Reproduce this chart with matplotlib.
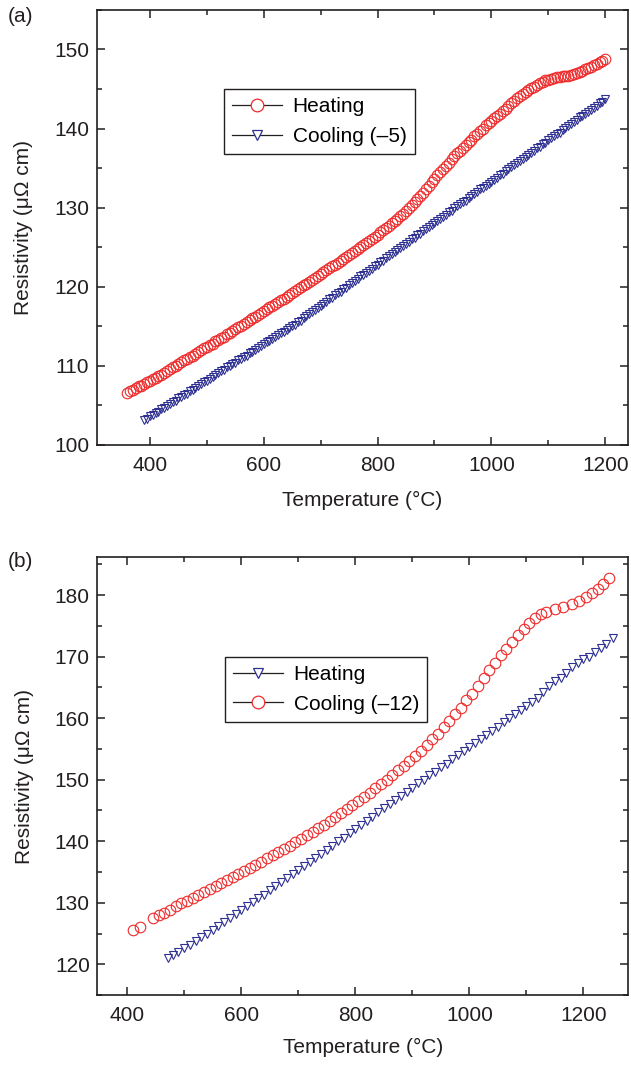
import matplotlib
matplotlib.use("Agg")
import matplotlib.pyplot as plt
from matplotlib.lines import Line2D
from matplotlib.ticker import MultipleLocator

plt.rcParams['font.family'] = ['Liberation Sans', 'DejaVu Sans']

# (a) heating / cooling (-5)
temp_a_heat = [360, 365, 370, 375, 380, 385, 390, 395, 400, 405, 410, 415, 420, 425, 430,
               435, 440, 445, 450, 455, 460, 465, 470, 475, 480, 485, 490, 495, 500, 505,
               510, 515, 520, 525, 530, 535, 540, 545, 550, 555, 560, 565, 570, 575, 580,
               585, 590, 595, 600, 605, 610, 615, 620, 625, 630, 635, 640, 645, 650, 655,
               660, 665, 670, 675, 680, 685, 690, 695, 700, 705, 710, 715, 720, 725, 730,
               735, 740, 745, 750, 755, 760, 765, 770, 775, 780, 785, 790, 795, 800, 805,
               810, 815, 820, 825, 830, 835, 840, 845, 850, 855, 860, 865, 870, 875, 880,
               885, 890, 895, 900, 905, 910, 915, 920, 925, 930, 935, 940, 945, 950, 955,
               960, 965, 970, 975, 980, 985, 990, 995, 1000, 1005, 1010, 1015, 1020, 1025,
               1030, 1035, 1040, 1045, 1050, 1055, 1060, 1065, 1070, 1075, 1080, 1085, 1090,
               1095, 1100, 1105, 1110, 1115, 1120, 1125, 1130, 1135, 1140, 1145, 1150, 1155,
               1160, 1165, 1170, 1175, 1180, 1185, 1190, 1195, 1200]
res_a_heat = [106.6, 106.8, 107.0, 107.2, 107.4, 107.5, 107.7, 107.9, 108.1, 108.3, 108.5,
              108.7, 108.9, 109.1, 109.3, 109.6, 109.8, 110.0, 110.2, 110.5, 110.7, 110.9,
              111.1, 111.3, 111.5, 111.8, 112.0, 112.2, 112.4, 112.6, 112.8, 113.1, 113.3,
              113.5, 113.7, 114.0, 114.2, 114.4, 114.6, 114.9, 115.1, 115.3, 115.5, 115.8,
              116.0, 116.2, 116.4, 116.7, 116.9, 117.2, 117.4, 117.6, 117.8, 118.1, 118.3,
              118.5, 118.7, 119.0, 119.2, 119.5, 119.7, 120.0, 120.2, 120.4, 120.6, 120.9,
              121.1, 121.4, 121.6, 121.9, 122.1, 122.4, 122.6, 122.8, 123.0, 123.3, 123.5,
              123.8, 124.0, 124.3, 124.5, 124.8, 125.0, 125.3, 125.5, 125.8, 126.1, 126.3,
              126.6, 126.9, 127.2, 127.4, 127.7, 128.0, 128.3, 128.6, 128.9, 129.2, 129.6,
              129.9, 130.3, 130.7, 131.1, 131.5, 131.9, 132.3, 132.8, 133.2, 133.6, 134.1,
              134.5, 134.9, 135.3, 135.7, 136.1, 136.5, 136.9, 137.2, 137.6, 137.9, 138.3,
              138.6, 139.0, 139.3, 139.7, 140.0, 140.4, 140.7, 141.0, 141.3, 141.6, 141.9,
              142.2, 142.5, 142.8, 143.2, 143.5, 143.8, 144.1, 144.4, 144.6, 144.9, 145.1,
              145.3, 145.5, 145.7, 145.9, 146.1, 146.2, 146.3, 146.4, 146.5, 146.5, 146.6,
              146.6, 146.7, 146.8, 146.9, 147.0, 147.2, 147.3, 147.5, 147.6, 147.8, 148.0,
              148.2, 148.4, 148.6, 148.8]

temp_a_cool = [390, 395, 400, 405, 410, 415, 420, 425, 430, 435, 440, 445, 450, 455, 460,
               465, 470, 475, 480, 485, 490, 495, 500, 505, 510, 515, 520, 525, 530, 535,
               540, 545, 550, 555, 560, 565, 570, 575, 580, 585, 590, 595, 600, 605, 610,
               615, 620, 625, 630, 635, 640, 645, 650, 655, 660, 665, 670, 675, 680, 685,
               690, 695, 700, 705, 710, 715, 720, 725, 730, 735, 740, 745, 750, 755, 760,
               765, 770, 775, 780, 785, 790, 795, 800, 805, 810, 815, 820, 825, 830, 835,
               840, 845, 850, 855, 860, 865, 870, 875, 880, 885, 890, 895, 900, 905, 910,
               915, 920, 925, 930, 935, 940, 945, 950, 955, 960, 965, 970, 975, 980, 985,
               990, 995, 1000, 1005, 1010, 1015, 1020, 1025, 1030, 1035, 1040, 1045, 1050,
               1055, 1060, 1065, 1070, 1075, 1080, 1085, 1090, 1095, 1100, 1105, 1110, 1115,
               1120, 1125, 1130, 1135, 1140, 1145, 1150, 1155, 1160, 1165, 1170, 1175, 1180,
               1185, 1190, 1195, 1200]
res_a_cool = [103.1, 103.3, 103.6, 103.8, 104.0, 104.2, 104.5, 104.7, 104.9, 105.2, 105.4,
              105.6, 105.9, 106.1, 106.3, 106.5, 106.8, 107.0, 107.2, 107.5, 107.7, 107.9,
              108.1, 108.4, 108.6, 108.8, 109.1, 109.3, 109.5, 109.8, 110.0, 110.2, 110.4,
              110.7, 110.9, 111.1, 111.3, 111.6, 111.8, 112.0, 112.3, 112.5, 112.7, 113.0,
              113.2, 113.4, 113.6, 113.9, 114.1, 114.3, 114.5, 114.8, 115.0, 115.2, 115.5,
              115.7, 116.0, 116.3, 116.6, 116.8, 117.1, 117.3, 117.6, 117.8, 118.1, 118.4,
              118.6, 118.9, 119.2, 119.4, 119.7, 119.9, 120.2, 120.5, 120.7, 121.0, 121.3,
              121.5, 121.8, 122.0, 122.3, 122.6, 122.8, 123.1, 123.3, 123.6, 123.9, 124.1,
              124.4, 124.6, 124.9, 125.2, 125.4, 125.7, 126.0, 126.2, 126.5, 126.7, 127.0,
              127.3, 127.5, 127.8, 128.1, 128.3, 128.6, 128.8, 129.1, 129.4, 129.6, 129.9,
              130.2, 130.4, 130.7, 130.9, 131.2, 131.5, 131.7, 132.0, 132.3, 132.5, 132.8,
              133.0, 133.3, 133.5, 133.8, 134.1, 134.3, 134.6, 134.9, 135.1, 135.4, 135.6,
              135.9, 136.2, 136.4, 136.7, 136.9, 137.2, 137.5, 137.7, 138.0, 138.2, 138.5,
              138.8, 139.0, 139.3, 139.5, 139.8, 140.1, 140.3, 140.6, 140.8, 141.1, 141.4,
              141.6, 141.9, 142.1, 142.4, 142.6, 142.9, 143.2, 143.4, 143.7]

# (b) heating / cooling (-12)
temp_b_heat = [472, 480, 490, 500, 510, 520, 530, 540, 550, 560, 570, 580, 590, 600, 610,
               620, 630, 640, 650, 660, 670, 680, 690, 700, 710, 720, 730, 740, 750, 760,
               770, 780, 790, 800, 810, 820, 830, 840, 850, 860, 870, 880, 890, 900, 910,
               920, 930, 940, 950, 960, 970, 980, 990, 1000, 1010, 1020, 1030, 1040, 1050,
               1060, 1070, 1080, 1090, 1100, 1110, 1120, 1130, 1140, 1150, 1160, 1170, 1180,
               1190, 1200, 1210, 1220, 1230, 1240, 1252]
res_b_heat = [121.0, 121.5, 122.0, 122.6, 123.2, 123.8, 124.4, 125.0, 125.6, 126.2, 126.8,
              127.5, 128.2, 128.8, 129.4, 130.1, 130.7, 131.3, 132.0, 132.7, 133.3, 134.0,
              134.7, 135.3, 136.0, 136.6, 137.3, 138.0, 138.6, 139.3, 140.0, 140.6, 141.3,
              142.0, 142.7, 143.3, 144.0, 144.7, 145.4, 146.0, 146.7, 147.4, 148.0, 148.7,
              149.4, 150.0, 150.7, 151.3, 152.0, 152.6, 153.3, 154.0, 154.7, 155.3, 155.9,
              156.6, 157.3, 157.9, 158.6, 159.3, 160.0, 160.6, 161.3, 162.0, 162.6, 163.3,
              164.3, 165.2, 166.0, 166.6, 167.4, 168.3, 168.9, 169.6, 170.0, 170.7, 171.4,
              172.0, 173.0]

temp_b_cool = [410, 423, 445, 455, 465, 475, 485, 495, 505, 515, 525, 535, 545, 555, 565,
               575, 585, 595, 605, 615, 625, 635, 645, 655, 665, 675, 685, 695, 705, 715,
               725, 735, 745, 755, 765, 775, 785, 795, 805, 815, 825, 835, 845, 855, 865,
               875, 885, 895, 905, 915, 925, 935, 945, 955, 965, 975, 985, 995, 1005, 1015,
               1025, 1035, 1045, 1055, 1065, 1075, 1085, 1095, 1105, 1115, 1125, 1135, 1150,
               1165, 1180, 1193, 1205, 1215, 1225, 1235, 1245]
res_b_cool = [125.6, 126.0, 127.5, 128.0, 128.4, 128.9, 129.4, 129.9, 130.3, 130.8, 131.2,
              131.7, 132.2, 132.7, 133.2, 133.7, 134.2, 134.7, 135.2, 135.7, 136.2, 136.7,
              137.2, 137.7, 138.2, 138.8, 139.3, 139.8, 140.4, 141.0, 141.5, 142.1, 142.7,
              143.3, 143.9, 144.6, 145.2, 145.9, 146.5, 147.2, 147.9, 148.6, 149.3, 150.0,
              150.8, 151.5, 152.3, 153.0, 153.9, 154.7, 155.6, 156.6, 157.5, 158.5, 159.6,
              160.6, 161.7, 162.9, 164.0, 165.3, 166.5, 167.8, 169.0, 170.2, 171.3, 172.4,
              173.5, 174.5, 175.5, 176.3, 176.9, 177.3, 177.7, 178.1, 178.6, 179.1, 179.7,
              180.3, 181.0, 181.8, 182.8]

red = "#ee2a2a"
blue = "#2e3192"
ink = "#231f20"
fs = 15

fig = plt.figure(figsize=(6.31, 10.65), dpi=100)
ax1 = fig.add_axes([0.1537, 0.5822, 0.8415, 0.4085])
ax2 = fig.add_axes([0.1545, 0.0657, 0.8415, 0.4113])


def style(ax, xlim, ylim):
    ax.set_xlim(*xlim)
    ax.set_ylim(*ylim)
    ax.xaxis.set_major_locator(MultipleLocator(200))
    ax.xaxis.set_minor_locator(MultipleLocator(100))
    ax.yaxis.set_major_locator(MultipleLocator(10))
    ax.yaxis.set_minor_locator(MultipleLocator(5))
    ax.tick_params(which='both', direction='in', top=True, right=True,
                   colors=ink, labelsize=fs, width=1.1)
    ax.tick_params(which='major', length=6)
    ax.tick_params(which='minor', length=3.5)
    ax.tick_params(axis='y', pad=5.5)
    ax.tick_params(axis='x', pad=8)
    for s in ax.spines.values():
        s.set_linewidth(1.2)
        s.set_color(ink)
    ax.set_xlabel("Temperature (°C)", fontsize=fs, color=ink)
    ax.set_ylabel("Resistivity (μΩ cm)", fontsize=fs, color=ink)
    ax.yaxis.set_label_coords(-0.12, 0.5)


def handle(color, marker, ms):
    # legend sample: short black line, open marker on a white face
    return Line2D([0], [0], color=ink, lw=0.9, marker=marker, markersize=ms + 1.5,
                  markerfacecolor='white', markeredgecolor=color, markeredgewidth=0.9)


def legend(ax, handles, labels, anchor):
    leg = ax.legend(handles, labels, loc='upper left', bbox_to_anchor=anchor,
                    fontsize=fs, handlelength=2.4, handletextpad=0.5,
                    borderpad=0.4, labelspacing=0.5, borderaxespad=0,
                    fancybox=False, framealpha=1, edgecolor=ink)
    leg.get_frame().set_linewidth(1.0)
    return leg


ax1.plot(temp_a_heat, res_a_heat, 'o', ms=7.6, mfc='none', mec=red, mew=0.8)
ax1.plot(temp_a_cool, res_a_cool, 'v', ms=5.6, mfc='none', mec=blue, mew=0.8)
style(ax1, (307, 1240), (100, 155))
ax1.xaxis.set_label_coords(0.5, -0.106)
legend(ax1, [handle(red, 'o', 7.6), handle(blue, 'v', 5.6)],
       ["Heating", "Cooling (–5)"], (0.239, 0.818))

ax2.plot(temp_b_cool, res_b_cool, 'o', ms=7.6, mfc='none', mec=red, mew=0.8)
ax2.plot(temp_b_heat, res_b_heat, 'v', ms=5.6, mfc='none', mec=blue, mew=0.8)
style(ax2, (348, 1279), (115, 186.2))
ax2.xaxis.set_label_coords(0.5, -0.098)
legend(ax2, [handle(blue, 'v', 5.6), handle(red, 'o', 7.6)],
       ["Heating", "Cooling (–12)"], (0.24, 0.772))

fig.text(8 / 631, 1 - 7 / 1065, "(a)", fontsize=fs, color=ink, va='top', ha='left')
fig.text(8 / 631, 1 - 552 / 1065, "(b)", fontsize=fs, color=ink, va='top', ha='left')

fig.savefig("out.png", dpi=100)
